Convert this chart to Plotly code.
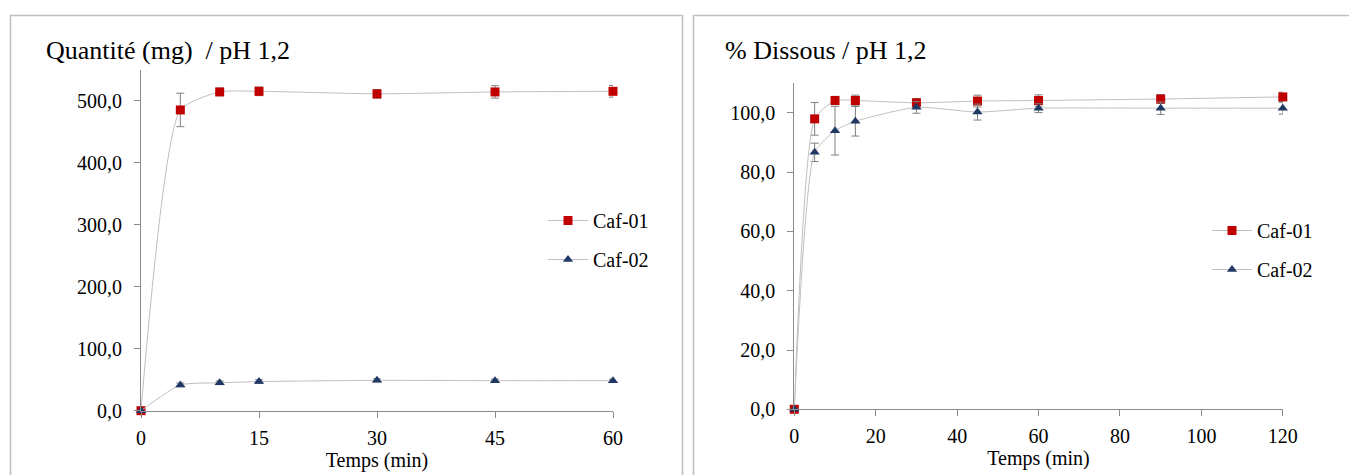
import plotly.graph_objects as go

# ---- Data ----
t_left = [0, 5, 10, 15, 30, 45, 60]
caf01_mg = [0, 485.5, 514.6, 515.6, 511.5, 514.6, 515.6]
caf01_mg_err = [0, 27, 6, 7, 7, 10, 9.5]
caf02_mg = [0, 41.6, 45.0, 47.0, 49.0, 48.5, 48.5]
caf02_mg_err = [0, 3, 3, 3, 2.5, 2.5, 2.5]

t_right = [0, 5, 10, 15, 30, 45, 60, 90, 120]
caf01_pct = [0, 98.0, 104.2, 104.2, 103.4, 104.0, 104.2, 104.7, 105.4]
caf01_pct_err = [0, 5.5, 1.4, 1.8, 1.5, 2.0, 1.9, 1.5, 1.6]
caf02_pct = [0, 86.7, 94.0, 97.2, 101.9, 100.3, 101.6, 101.6, 101.6]
caf02_pct_err = [0, 3.1, 8.2, 5.0, 2.0, 2.7, 1.5, 2.1, 2.0]

names = ["Caf-01", "Caf-02"]
left_ticks = [0, 15, 30, 45, 60]
right_ticks = [0, 20, 40, 60, 80, 100, 120]

FONT = "Liberation Serif"
RED = "#C00000"
BLUE = "#1F3864"
LINE = "#BFBFBF"
ERR = "#7F7F7F"
AX = "#8C8C8C"

fig = go.Figure()

def add(x, y, err, name, color, symbol, xa, ya, legend, group):
    fig.add_trace(go.Scatter(
        x=x, y=y, name=name, mode="lines+markers",
        line=dict(color=LINE, width=1, shape="spline", smoothing=0.55),
        marker=dict(color=color, symbol=symbol, size=9, line=dict(width=0)),
        error_y=dict(type="data", array=err, visible=True, color=ERR, thickness=1, width=4),
        xaxis=xa, yaxis=ya, legend=legend, legendgroup=group, cliponaxis=False,
    ))

add(t_left, caf01_mg, caf01_mg_err, names[0], RED, "square", "x", "y", "legend", "a")
add(t_left, caf02_mg, caf02_mg_err, names[1], BLUE, "triangle-up", "x", "y", "legend", "b")
add(t_right, caf01_pct, caf01_pct_err, names[0], RED, "square", "x2", "y2", "legend2", "c")
add(t_right, caf02_pct, caf02_pct_err, names[1], BLUE, "triangle-up", "x2", "y2", "legend2", "d")

W, H = 1349, 475
def px(x): return x / W
def py(y): return (H - y) / H

axis_common = dict(showline=True, linecolor=AX, linewidth=1, ticks="outside",
                   tickcolor=AX, ticklen=6, showgrid=False, zeroline=False,
                   automargin=False,
                   tickfont=dict(family=FONT, size=20, color="#000"))

legend_common = dict(xanchor="left", yanchor="top", itemwidth=40,
                     font=dict(family=FONT, size=20, color="#000"),
                     bgcolor="rgba(0,0,0,0)", tracegroupgap=10)

fig.update_layout(
    width=W, height=H, margin=dict(l=0, r=0, t=0, b=0, autoexpand=False),
    paper_bgcolor="white", plot_bgcolor="white",
    separators=", ",
    font=dict(family=FONT, color="#000"),
    showlegend=True,
    xaxis=dict(domain=[px(141), px(613)], range=[0, 60], tickvals=left_ticks,
               anchor="y", ticklabelstandoff=3,
               title=dict(text="Temps (min)", font=dict(family=FONT, size=20), standoff=0),
               **axis_common),
    yaxis=dict(domain=[py(410.7), py(70)], range=[0, 550], dtick=100, tickformat=".1f",
               anchor="x", ticklabelstandoff=8, **axis_common),
    xaxis2=dict(domain=[px(794.3), px(1282.8)], range=[0, 120], tickvals=right_ticks,
                anchor="y2", ticklabelstandoff=3,
                title=dict(text="Temps (min)", font=dict(family=FONT, size=20), standoff=0),
                **axis_common),
    yaxis2=dict(domain=[py(409.3), py(83.3)], range=[0, 110], dtick=20, tickformat=".1f",
                anchor="x2", ticklabelstandoff=8, **axis_common),
    legend=dict(x=px(543), y=py(201), **legend_common),
    legend2=dict(x=px(1207), y=py(211), **legend_common),
    annotations=[
        dict(text="Quantité (mg)&nbsp; / pH 1,2", xref="paper", yref="paper",
             x=px(44), y=py(50), xanchor="left", yanchor="middle", showarrow=False,
             font=dict(family=FONT, size=26, color="#000")),
        dict(text="% Dissous / pH 1,2", xref="paper", yref="paper",
             x=px(723), y=py(50), xanchor="left", yanchor="middle", showarrow=False,
             font=dict(family=FONT, size=26, color="#000")),
    ],
    shapes=[
        dict(type="rect", xref="paper", yref="paper", x0=px(10.5), x1=px(682.5),
             y0=-0.2, y1=py(15.5), line=dict(color="#BFBFBF", width=1.5)),
        dict(type="rect", xref="paper", yref="paper", x0=px(693.5), x1=1.2,
             y0=-0.2, y1=py(15.5), line=dict(color="#BFBFBF", width=1.5)),
    ],
)

fig.write_html(
    "out.html",
    config={"displayModeBar": False},
    post_script="document.body.style.margin='0';document.body.style.overflow='hidden';",
)
